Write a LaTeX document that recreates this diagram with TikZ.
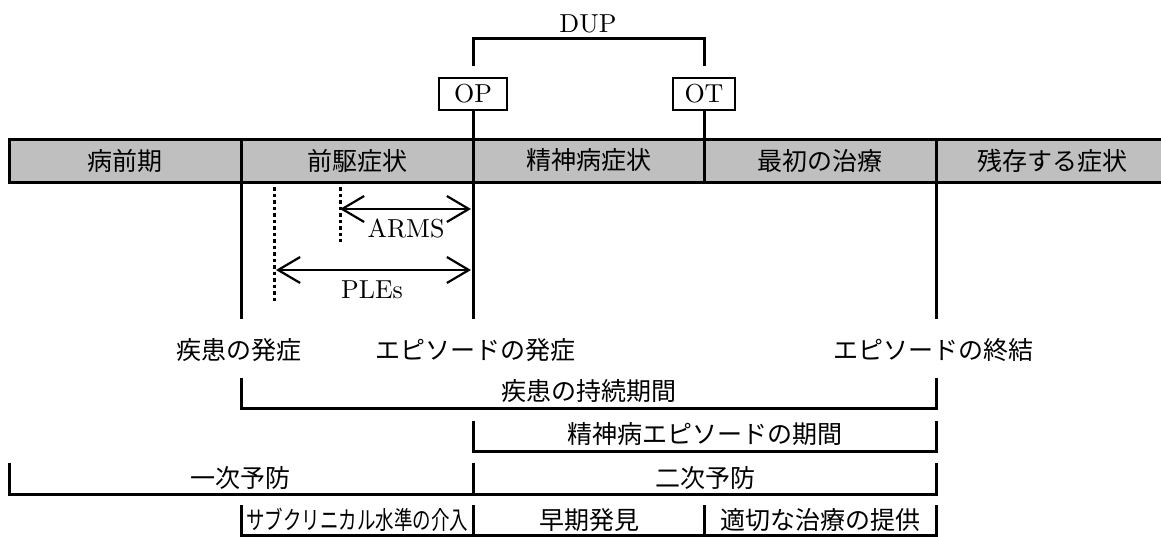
\documentclass[tikz,border=0pt]{standalone}
\usepackage{fontspec}
\usepackage{graphicx}
\newfontfamily\jp{Noto Sans CJK JP}
\usetikzlibrary{arrows.meta}
\tikzset{
 jpf/.style={font=\jp\fontsize{25}{30}\selectfont},
 enf/.style={font=\fontsize{10}{12}\selectfont},
 seg/.style={draw, line width=3pt, fill=black!25, minimum height=43pt, inner sep=0pt, outer sep=0pt, jpf},
 tagbox/.style={draw, line width=2.6pt, fill=white, minimum height=32pt, inner sep=2pt, outer sep=0pt, enf},
 ln/.style={line width=3pt},
 dotl/.style={line width=3pt, dash pattern=on 3.5pt off 3pt},
 barb/.tip={Straight Barb[length=22pt,width=26pt,line width=2.2pt]},
 dimarr/.style={line width=2.2pt, barb-barb},
 lbl/.style={jpf, inner sep=0pt},
 en/.style={enf, inner sep=0pt},
}
\newcommand{\bigtxt}[1]{\scalebox{2.6}{#1}}
\begin{document}
\begin{tikzpicture}[x=1pt,y=-1pt]
\useasboundingbox (0,0) rectangle (1161,536);
\clip (0,0) rectangle (1161,536);
% bar
\node[seg, minimum width=232pt] (s1) at (125,160.5) {病前期};
\node[seg, minimum width=232pt] (s2) at (357,160.5) {前駆症状};
\node[seg, minimum width=231pt] (s3) at (588.5,160.5) {精神病症状};
\node[seg, minimum width=232pt] (s4) at (820,160.5) {最初の治療};
\node[seg, minimum width=232pt] (s5) at (1052,160.5) {残存する症状};
% OP / OT / DUP
\node[tagbox, minimum width=68pt] (op) at (473,94) {\bigtxt{OP}};
\node[tagbox, minimum width=62pt] (ot) at (704,94) {\bigtxt{OT}};
\node[en] (dup) at (588,24) {\bigtxt{DUP}};
\coordinate (dl) at (473,66);
\coordinate (dlt) at (473,38);
\coordinate (drt) at (704,38);
\coordinate (dr) at (704,66);
\draw[ln] (dl) -- (dlt) -- (drt) -- (dr);
% vertical lines
\coordinate (onset) at (241,319);
\coordinate (epi) at (473,319);
\coordinate (fin) at (936,319);
\draw[ln] (onset |- s2.south) -- (onset);
\draw[ln] (op.south) -- (epi);
\draw[ln] (ot.south) -- (ot.south |- s4.north);
\draw[ln] (fin |- s5.south) -- (fin);
% dotted lines
\coordinate (p1) at (274,187);
\coordinate (p2) at (274,303);
\coordinate (a1) at (340,187);
\coordinate (a2) at (340,242);
\draw[dotl] (p1) -- (p2);
\draw[dotl] (a1) -- (a2);
% arrows
\coordinate (armsL) at (340,209);
\coordinate (armsR) at (471,209);
\coordinate (plesL) at (276,270);
\coordinate (plesR) at (471,270);
\draw[dimarr] (armsL) -- (armsR);
\draw[dimarr] (plesL) -- (plesR);
\node[en] (arms) at (406,228) {\bigtxt{ARMS}};
\node[en] (ples) at (372,290) {\bigtxt{PLEs}};
% event labels
\node[lbl] (lonset) at (239,350) {疾患の発症};
\node[lbl] (lepi) at (475,350) {エピソードの発症};
\node[lbl] (lfin) at (933,350) {エピソードの終結};
% brackets
\coordinate (b1a) at (241,378); \coordinate (b1b) at (241,408);
\coordinate (b1c) at (936,408); \coordinate (b1d) at (936,378);
\draw[ln] (b1a) -- (b1b) -- (b1c) -- (b1d);
\node[lbl] (t1) at (589,391) {疾患の持続期間};
\coordinate (b2a) at (473,421); \coordinate (b2b) at (473,451);
\coordinate (b2c) at (936,451); \coordinate (b2d) at (936,421);
\draw[ln] (b2a) -- (b2b) -- (b2c) -- (b2d);
\node[lbl] (t2) at (705,434) {精神病エピソードの期間};
\coordinate (b3a) at (9,463); \coordinate (b3b) at (9,494);
\coordinate (b3m) at (473,463); \coordinate (b3n) at (473,494);
\coordinate (b3c) at (936,494); \coordinate (b3d) at (936,463);
\draw[ln] (b3a) -- (b3b) -- (b3c) -- (b3d);
\draw[ln] (b3m) -- (b3n);
\node[lbl] (t3) at (240,478) {一次予防};
\node[lbl] (t4) at (705,478) {二次予防};
\coordinate (b4a) at (241,505); \coordinate (b4b) at (241,535);
\coordinate (b4c) at (936,535); \coordinate (b4d) at (936,505);
\coordinate (b4m) at (473,505); \coordinate (b4n) at (473,535);
\coordinate (b4p) at (704,505); \coordinate (b4q) at (704,535);
\draw[ln] (b4a) -- (b4b) -- (b4c) -- (b4d);
\draw[ln] (b4m) -- (b4n);
\draw[ln] (b4p) -- (b4q);
\node[lbl] (t5) at (357,520) {\scalebox{0.74}[1]{サブクリニカル水準の介入}};
\node[lbl] (t6) at (589,520) {早期発見};
\node[lbl] (t7) at (820,520) {適切な治療の提供};
\end{tikzpicture}
\end{document}
